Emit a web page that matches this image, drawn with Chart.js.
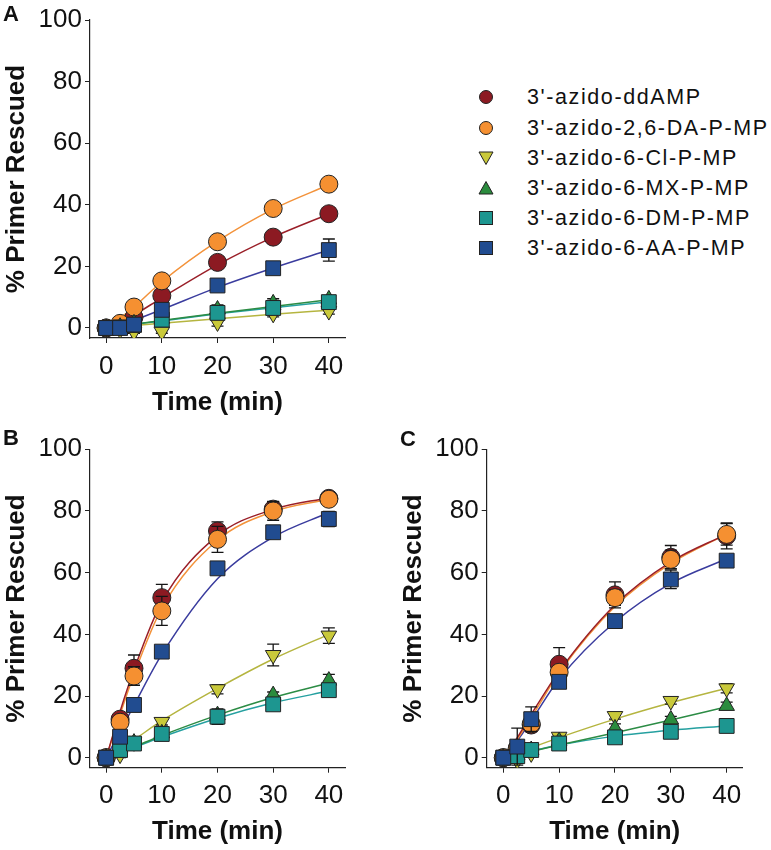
<!DOCTYPE html>
<html>
<head>
<meta charset="utf-8">
<script src="https://cdn.jsdelivr.net/npm/chart.js@4.4.0/dist/chart.umd.min.js"></script>
<style>
  body { margin: 0; background: #fff; }
  #page { position: relative; width: 771px; height: 850px; font-family: 'Liberation Sans', Arial, sans-serif; color: #111; }
  canvas.panel { position: absolute; }
  .tag { position: absolute; font-weight: bold; font-size: 22px; line-height: 22px; }
  .row { position: absolute; left: 470px; height: 30px; line-height: 30px; font-size: 21.5px; letter-spacing: 1.6px; white-space: nowrap; }
  .row svg { position: absolute; left: 6px; top: 5px; }
  .row span { position: absolute; left: 57px; }
</style>
</head>
<body>
<div id="page">
  <canvas id="chartA" class="panel" width="380" height="420" style="left:0;top:0"></canvas>
  <canvas id="chartB" class="panel" width="380" height="430" style="left:0;top:420px"></canvas>
  <canvas id="chartC" class="panel" width="381" height="430" style="left:390px;top:420px"></canvas>
  <div class="tag" style="left:3px;top:3px">A</div>
  <div class="tag" style="left:3px;top:427px">B</div>
  <div class="tag" style="left:400px;top:428px">C</div>
  <div id="legend"></div>
</div>
<script>
// time points (min)
const timeMin = [0, 2.5, 5, 10, 20, 30, 40];
const xTicks = [0, 10, 20, 30, 40];
const yTicks = [0, 20, 40, 60, 80, 100];

const seriesNames = ["3'-azido-ddAMP", "3'-azido-2,6-DA-P-MP", "3'-azido-6-Cl-P-MP",
                     "3'-azido-6-MX-P-MP", "3'-azido-6-DM-P-MP", "3'-azido-6-AA-P-MP"];
const markerColors = ['#8c1a22', '#f59031', '#c9c93a', '#2b8c3e', '#1d9690', '#214c90'];
const lineColors = ['#9a1f28', '#f3923a', '#b5b540', '#2c8c45', '#25a0a0', '#3a3c9e'];
const markerStyles = ['circle', 'circle', 'triangle', 'triangle', 'rect', 'rect'];

// panel A
const aDdAMP = [0, 1.0, 3.5, 10.5, 21.3, 29.5, 37.1];
const aDAPMP = [0, 1.5, 6.8, 15.3, 28.0, 38.8, 46.7];
const aClPMP = [0, -0.5, -1.2, -1.2, 1.8, 4.6, 5.5];
const aMXPMP = [0, 0.4, 1.5, 3.0, 6.0, 8.0, 9.3];
const aDMPMP = [0, 0.2, 1.0, 2.7, 4.9, 6.5, 8.4];
const aAAPMP = [0, 0.0, 1.1, 5.9, 13.8, 19.4, 25.3];
const aDdAMPFit = [0, 1.8, 4.2, 9.8, 20.5, 29.5, 37.0];
const aDAPMPFit = [0, 3.2, 6.8, 15.0, 28.2, 38.6, 46.5];
const aClPMPFit = [0, 0.4, 0.8, 1.5, 3.0, 4.5, 5.8];
const aMXPMPFit = [0, 0.6, 1.2, 2.4, 4.8, 7.0, 9.2];
const aDMPMPFit = [0, 0.6, 1.2, 2.3, 4.6, 6.6, 8.5];
const aAAPMPFit = [0, 1.0, 2.5, 6.0, 13.2, 19.5, 25.3];
const aDdAMPErr = [0, 0, 0.5, 1, 1, 1.2, 1.2];
const aDAPMPErr = [0, 0, 0.5, 1, 1, 1, 1];
const aClPMPErr = [0, 0, 0.5, 0.5, 1.2, 1, 1];
const aMXPMPErr = [0, 0, 0.5, 0.5, 1.5, 1.5, 1.2];
const aDMPMPErr = [0, 0, 0.5, 0.5, 1, 1, 1];
const aAAPMPErr = [0, 0, 0.5, 0.5, 1, 1.5, 3.6];

// panel B
const bDdAMP = [0, 12.5, 29.0, 51.9, 73.5, 80.6, 84.1];
const bDAPMP = [0, 11.5, 26.5, 47.6, 70.8, 80.0, 83.8];
const bClPMP = [0, 1.0, 5.0, 11.6, 22.2, 33.3, 39.6];
const bMXPMP = [0, 3.0, 4.9, 7.9, 13.8, 20.3, 25.0];
const bDMPMP = [0, 2.5, 4.6, 7.7, 13.3, 17.3, 21.9];
const bAAPMP = [0, 6.8, 17.1, 34.4, 61.4, 73.1, 77.4];
const bDdAMPFit = [0, 15.0, 28.5, 50.5, 72.0, 80.5, 84.3];
const bDAPMPFit = [0, 14.0, 27.0, 48.5, 70.5, 79.8, 83.8];
const bClPMPFit = [0, 2.8, 5.8, 12.0, 22.5, 32.0, 40.0];
const bMXPMPFit = [0, 1.7, 3.5, 7.2, 13.8, 19.5, 24.2];
const bDMPMPFit = [0, 1.6, 3.3, 6.7, 12.8, 17.8, 21.6];
const bAAPMPFit = [0, 8.5, 17.0, 33.5, 58.0, 71.5, 79.5];
const bDdAMPErr = [0, 1, 4.3, 4.3, 3, 2.5, 2];
const bDAPMPErr = [0, 1, 3, 4.7, 4.2, 3, 2];
const bClPMPErr = [0, 1, 1, 1, 1.5, 3.5, 2.5];
const bMXPMPErr = [0, 0.5, 0.5, 1, 1.5, 1, 2];
const bDMPMPErr = [0, 0.5, 0.5, 1, 2.5, 1.5, 1.5];
const bAAPMPErr = [0, 1, 1, 1, 1.5, 1.5, 2.5];

// panel C
const cDdAMP = [0, 3.0, 10.6, 30.3, 52.8, 65.0, 71.9];
const cDAPMP = [0, 3.0, 11.0, 27.7, 51.9, 64.3, 72.4];
const cClPMP = [0, -0.8, 1.4, 6.8, 13.5, 18.4, 22.5];
const cMXPMP = [0, 0.9, 2.5, 5.4, 9.5, 12.4, 16.8];
const cDMPMP = [0, 0.5, 2.5, 4.6, 6.6, 8.4, 10.3];
const cAAPMP = [0, 3.6, 12.5, 24.6, 44.3, 57.8, 63.9];
const cDdAMPFit = [0, 6.5, 14.0, 28.0, 49.5, 63.5, 72.5];
const cDAPMPFit = [0, 6.0, 13.0, 27.5, 49.0, 63.0, 72.5];
const cClPMPFit = [0, 1.5, 3.2, 6.5, 12.5, 17.8, 22.5];
const cMXPMPFit = [0, 1.0, 2.0, 4.1, 8.1, 12.2, 16.5];
const cDMPMPFit = [0, 1.0, 2.1, 4.1, 7.0, 8.9, 10.3];
const cAAPMPFit = [0, 5.5, 12.0, 25.5, 44.0, 56.5, 64.5];
const cDdAMPErr = [0, 1, 2, 5.4, 4.2, 3.8, 4.2];
const cDAPMPErr = [0, 1, 1, 1.5, 2.5, 3, 3.5];
const cClPMPErr = [0, 1, 1, 1, 1, 1, 1.5];
const cMXPMPErr = [0, 0.5, 0.5, 1, 1.5, 1, 1.2];
const cDMPMPErr = [0, 0.5, 0.5, 1, 1, 1, 1];
const cAAPMPErr = [0, 6, 4, 1.5, 1.5, 3, 1.5];

// error bars are drawn just before each series' markers
const errorBars = {
  id: 'errorBars',
  beforeDatasetDraw(chart, args) {
    const ds = chart.data.datasets[args.index];
    if (!ds.errors) return;
    const ctx = chart.ctx;
    const x = chart.scales.x, y = chart.scales.y;
    ctx.save();
    ctx.strokeStyle = '#151515';
    ctx.lineWidth = 1.3;
    ds.data.forEach((p, i) => {
      const e = ds.errors[i];
      if (!e) return;
      const px = x.getPixelForValue(p.x);
      const top = y.getPixelForValue(p.y + e);
      const bot = y.getPixelForValue(p.y - e);
      ctx.beginPath();
      ctx.moveTo(px, top); ctx.lineTo(px, bot);
      ctx.moveTo(px - 6, top); ctx.lineTo(px + 6, top);
      ctx.moveTo(px - 6, bot); ctx.lineTo(px + 6, bot);
      ctx.stroke();
    });
    ctx.restore();
  }
};

function toPoints(vals) {
  return timeMin.map((t, i) => ({x: t, y: vals[i]}));
}

function buildDatasets(values, fits, errors) {
  const sets = [];
  fits.forEach((f, i) => {
    sets.push({
      data: toPoints(f),
      borderColor: lineColors[i],
      borderWidth: 1.5,
      pointRadius: 0,
      cubicInterpolationMode: 'monotone',
      order: 20 + i
    });
  });
  values.forEach((v, i) => {
    const style = markerStyles[i];
    sets.push({
      data: toPoints(v),
      errors: errors[i],
      showLine: false,
      pointStyle: style,
      pointRotation: i === 2 ? 180 : 0,
      pointRadius: style === 'rect' ? 10.5 : 9,
      pointBackgroundColor: markerColors[i],
      pointBorderColor: '#222',
      pointBorderWidth: 1,
      order: 5 - i
    });
  });
  return sets;
}

function makePanel(id, values, fits, errors, box) {
  new Chart(document.getElementById(id), {
    type: 'line',
    data: {datasets: buildDatasets(values, fits, errors)},
    options: {
      responsive: false,
      animation: false,
      layout: {padding: {top: box.top, right: box.right, bottom: 0, left: 0}},
      plugins: {legend: {display: false}, tooltip: {enabled: false}},
      scales: {
        x: {
          type: 'linear',
          min: box.xMin, max: box.xMax,
          afterBuildTicks: (s) => { s.ticks = xTicks.map(v => ({value: v})); },
          afterFit: (s) => { s.height = box.xHeight; },
          grid: {drawOnChartArea: false, drawTicks: true, tickLength: 5, color: '#222'},
          border: {display: true, color: '#222', width: 1.2},
          ticks: {color: '#111', padding: 8, maxRotation: 0,
                  font: {family: 'Liberation Sans', size: 26, lineHeight: 1.2}},
          title: {display: true, text: 'Time (min)', color: '#111',
                  padding: {top: 0, bottom: box.xTitlePad},
                  font: {family: 'Liberation Sans', size: 26, weight: 'bold', lineHeight: 1.2}}
        },
        y: {
          min: box.yMin, max: 100,
          afterBuildTicks: (s) => { s.ticks = yTicks.map(v => ({value: v})); },
          afterFit: (s) => { s.width = box.yWidth; },
          grid: {drawOnChartArea: false, drawTicks: true, tickLength: 5, color: '#222'},
          border: {display: true, color: '#222', width: 1.2},
          ticks: {color: '#111', padding: 3,
                  font: {family: 'Liberation Sans', size: 26, lineHeight: 1.2}},
          title: {display: true, text: '% Primer Rescued', color: '#111',
                  padding: {top: box.yTitlePad, bottom: 0},
                  font: {family: 'Liberation Sans', size: 26, weight: 'bold', lineHeight: 1.2}}
        }
      }
    },
    plugins: [errorBars]
  });
}

makePanel('chartA',
  [aDdAMP, aDAPMP, aClPMP, aMXPMP, aDMPMP, aAAPMP],
  [aDdAMPFit, aDAPMPFit, aClPMPFit, aMXPMPFit, aDMPMPFit, aAAPMPFit],
  [aDdAMPErr, aDAPMPErr, aClPMPErr, aMXPMPErr, aDMPMPErr, aAAPMPErr],
  {top: 20, right: 35, xHeight: 82, yWidth: 90, xMin: -2.9, xMax: 42.9, yMin: -3.25, xTitlePad: 1.4, yTitlePad: 1.4});

makePanel('chartB',
  [bDdAMP, bDAPMP, bClPMP, bMXPMP, bDMPMP, bAAPMP],
  [bDdAMPFit, bDAPMPFit, bClPMPFit, bMXPMPFit, bDMPMPFit, bAAPMPFit],
  [bDdAMPErr, bDAPMPErr, bClPMPErr, bMXPMPErr, bDMPMPErr, bAAPMPErr],
  {top: 29.3, right: 35, xHeight: 82.3, yWidth: 90, xMin: -2.9, xMax: 42.9, yMin: -3.24, xTitlePad: 2.7, yTitlePad: 1.4});

makePanel('chartC',
  [cDdAMP, cDAPMP, cClPMP, cMXPMP, cDMPMP, cAAPMP],
  [cDdAMPFit, cDAPMPFit, cClPMPFit, cMXPMPFit, cDMPMPFit, cAAPMPFit],
  [cDdAMPErr, cDAPMPErr, cClPMPErr, cMXPMPErr, cDMPMPErr, cAAPMPErr],
  {top: 29.3, right: 28.3, xHeight: 82.3, yWidth: 96.7, xMin: -2.97, xMax: 42.87, yMin: -3.24, xTitlePad: 2.7, yTitlePad: 8.4});

// shared legend
function legendMarker(i) {
  const c = markerColors[i];
  const s = '<svg width="20" height="20" viewBox="0 0 20 20">';
  let shape;
  if (markerStyles[i] === 'circle') shape = `<circle cx="10" cy="10" r="6.5" fill="${c}" stroke="#222" stroke-width="1"/>`;
  else if (markerStyles[i] === 'rect') shape = `<rect x="3.5" y="3.5" width="13" height="13" fill="${c}" stroke="#222" stroke-width="1"/>`;
  else if (i === 2) shape = `<polygon points="3,4 17,4 10,16.5" fill="${c}" stroke="#222" stroke-width="1"/>`;
  else shape = `<polygon points="3,16 17,16 10,3.5" fill="${c}" stroke="#222" stroke-width="1"/>`;
  return s + shape + '</svg>';
}
const legendRows = [97, 127.5, 158, 188, 217.5, 248];
const legend = document.getElementById('legend');
seriesNames.forEach((name, i) => {
  const row = document.createElement('div');
  row.className = 'row';
  row.style.top = (legendRows[i] - 15) + 'px';
  row.innerHTML = legendMarker(i) + '<span>' + name + '</span>';
  legend.appendChild(row);
});
</script>
</body>
</html>
